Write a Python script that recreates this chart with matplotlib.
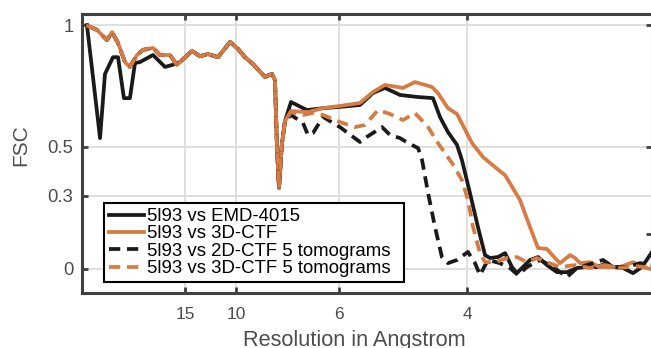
import matplotlib
matplotlib.use("Agg")
import matplotlib.pyplot as plt
import numpy as np

plt.rcParams["font.family"] = ["Liberation Sans", "DejaVu Sans"]

# spatial frequency (1/Angstrom) and FSC values
# low-resolution part shared by the 3D-CTF and the two "5 tomograms" curves
top_head_f = [0.0036, 0.0094, 0.0159, 0.0192, 0.0231, 0.0276, 0.0308, 0.0354,
              0.0393, 0.0458, 0.0503, 0.0568, 0.0614, 0.0646]
top_head_fsc = [0.996, 0.980, 0.938, 0.971, 0.926, 0.848, 0.828, 0.877,
                0.898, 0.906, 0.877, 0.877, 0.836, 0.856]

# low-resolution part of the EMD-4015 curve
emd_head_f = [0.0029, 0.0114, 0.0146, 0.0198, 0.0231, 0.0269, 0.0308, 0.0341,
              0.0373, 0.0458, 0.0536, 0.0581, 0.0633]
emd_head_fsc = [1.000, 0.536, 0.799, 0.868, 0.868, 0.700, 0.700, 0.844,
                0.848, 0.877, 0.828, 0.836, 0.848]

# middle part where all four curves overlap (incl. the dip near 8 A)
mid_f = [0.0711, 0.0763, 0.0815, 0.0880, 0.0958, 0.1010, 0.1055, 0.1107,
         0.1185, 0.1231, 0.1250, 0.1263, 0.1276, 0.1295, 0.1315]
mid_fsc = [0.894, 0.872, 0.881, 0.868, 0.930, 0.902, 0.868, 0.840,
           0.787, 0.799, 0.774, 0.499, 0.331, 0.512, 0.606]

# high-resolution tails
emd_tail_f = [0.1354, 0.1458, 0.1562, 0.1672, 0.1802, 0.1886, 0.1964, 0.2062,
              0.2172, 0.2276, 0.2321, 0.2373, 0.2432, 0.2464, 0.2516, 0.2568,
              0.2614, 0.2646, 0.2698, 0.2744, 0.2789, 0.2821, 0.2860, 0.2906,
              0.2958, 0.3016, 0.3081, 0.3146, 0.3211, 0.3276, 0.3341, 0.3406,
              0.3445, 0.3510, 0.3575, 0.3633, 0.3672, 0.3710]
emd_tail_fsc = [0.684, 0.651, 0.659, 0.664, 0.672, 0.721, 0.742, 0.713,
                0.705, 0.700, 0.623, 0.561, 0.508, 0.446, 0.311, 0.171,
                0.056, 0.044, 0.048, 0.064, 0.007, -0.018, 0.007, 0.036,
                0.048, 0.015, -0.014, -0.014, 0.003, 0.007, 0.007, 0.023,
                0.007, 0.003, -0.018, 0.007, 0.044, 0.080]

ctf3d_tail_f = [0.1354, 0.1464, 0.1562, 0.1672, 0.1802, 0.1886, 0.1964, 0.2081,
                0.2159, 0.2269, 0.2308, 0.2373, 0.2432, 0.2529, 0.2601, 0.2679,
                0.2744, 0.2841, 0.2906, 0.2958, 0.3016, 0.3068, 0.3101, 0.3166,
                0.3198, 0.3231, 0.3295, 0.3360, 0.3406, 0.3490, 0.3575, 0.3640,
                0.3710]
ctf3d_tail_fsc = [0.647, 0.643, 0.659, 0.668, 0.680, 0.725, 0.754, 0.742,
                  0.766, 0.746, 0.721, 0.659, 0.635, 0.516, 0.458, 0.417,
                  0.384, 0.282, 0.171, 0.085, 0.081, 0.044, 0.023, 0.056,
                  0.044, 0.023, 0.027, 0.007, 0.007, 0.007, 0.027, 0.007,
                  -0.005]

ctf2d_5t_tail_f = [0.1354, 0.1432, 0.1464, 0.1497, 0.1562, 0.1672, 0.1802, 0.1847,
                   0.1945, 0.1997, 0.2062, 0.2114, 0.2179, 0.2205, 0.2244, 0.2289,
                   0.2334, 0.2373, 0.2432, 0.2503, 0.2549, 0.2581, 0.2633, 0.2711,
                   0.2776, 0.2828, 0.2886, 0.2971, 0.3055, 0.3146, 0.3211, 0.3276,
                   0.3380, 0.3445, 0.3536, 0.3620, 0.3710]
ctf2d_5t_tail_fsc = [0.631, 0.598, 0.549, 0.557, 0.623, 0.581, 0.520, 0.541,
                     0.581, 0.549, 0.536, 0.516, 0.495, 0.446, 0.311, 0.171,
                     0.048, 0.023, 0.036, 0.069, 0.023, -0.026, 0.036, 0.023,
                     0.003, -0.026, 0.007, 0.036, 0.007, -0.034, 0.003, 0.015,
                     0.036, 0.007, 0.007, 0.023, 0.015]

ctf3d_5t_tail_f = [0.1354, 0.1432, 0.1497, 0.1562, 0.1672, 0.1769, 0.1834, 0.1919,
                   0.1997, 0.2081, 0.2159, 0.2244, 0.2308, 0.2399, 0.2464, 0.2503,
                   0.2536, 0.2581, 0.2614, 0.2679, 0.2757, 0.2821, 0.2886, 0.2951,
                   0.3016, 0.3101, 0.3198, 0.3295, 0.3393, 0.3490, 0.3588, 0.3710]
ctf3d_5t_tail_fsc = [0.643, 0.631, 0.639, 0.631, 0.602, 0.581, 0.590, 0.651,
                     0.635, 0.610, 0.639, 0.581, 0.516, 0.434, 0.364, 0.282,
                     0.171, 0.064, 0.027, 0.027, 0.044, 0.048, 0.027, 0.044,
                     0.027, 0.007, 0.015, 0.003, 0.015, 0.003, 0.011, 0.003]

labels = ["5l93 vs EMD-4015", "5l93 vs 3D-CTF",
          "5l93 vs 2D-CTF 5 tomograms", "5l93 vs 3D-CTF 5 tomograms"]

res_ticks = [15, 10, 6, 4]
fsc_ticks = [0, 0.3, 0.5, 1]
fsc_ticks_right = [0.143, 0.5, 1]

BLACK = "#1a1a1a"
ORANGE = "#d77b43"
AXCOL = "#404040"

series = [
    (emd_head_f + mid_f + emd_tail_f, emd_head_fsc + mid_fsc + emd_tail_fsc, BLACK, "-"),
    (top_head_f + mid_f + ctf3d_tail_f, top_head_fsc + mid_fsc + ctf3d_tail_fsc, ORANGE, "-"),
    (top_head_f + mid_f + ctf2d_5t_tail_f, top_head_fsc + mid_fsc + ctf2d_5t_tail_fsc, BLACK, "--"),
    (top_head_f + mid_f + ctf3d_5t_tail_f, top_head_fsc + mid_fsc + ctf3d_5t_tail_fsc, ORANGE, "--"),
]

fig = plt.figure(figsize=(6.51, 3.48), dpi=100)
ax = fig.add_axes([0.1267, 0.157, 0.8748, 0.8026])

for (f, fsc, col, ls), lab in zip(series, labels):
    line, = ax.plot(np.array(f), np.array(fsc), color=col, lw=2.7, label=lab)
    if ls == "--":
        line.set_dashes((3.0, 1.8))

ax.set_xlim(0, 0.3698)
ax.set_ylim(-0.101, 1.045)

ax.set_xticks([1.0 / r for r in res_ticks])
ax.set_xticklabels([str(r) for r in res_ticks])
ax.set_yticks(fsc_ticks)
ax.set_yticklabels([str(t) for t in fsc_ticks])

ax.grid(True, color="#dcdcdc", lw=1.3)
ax.set_axisbelow(True)

for sp in ax.spines.values():
    sp.set_color(AXCOL)
    sp.set_linewidth(2.2)

ax.tick_params(axis="both", direction="in", length=4, width=2.0, color=AXCOL,
               labelcolor="#4d4d4d")
ax.tick_params(axis="x", top=True, pad=10, labelsize=12.5)
ax.tick_params(axis="y", right=False, pad=6.5, labelsize=13.3)

# right-hand ticks (no labels) as in the original figure
ax2 = ax.twinx()
ax2.set_ylim(ax.get_ylim())
ax2.set_yticks(fsc_ticks_right)
ax2.tick_params(axis="y", direction="in", length=4, width=2.0, color=AXCOL,
                labelright=False)
for sp in ax2.spines.values():
    sp.set_visible(False)

ax.set_xlabel("Resolution in Angstrom", fontsize=15.7, color="#4d4d4d")
ax.xaxis.set_label_coords(0.477, -0.132)
ax.set_ylabel("FSC", fontsize=15, color="#4d4d4d")
ax.yaxis.set_label_coords(-0.091, 0.53)

leg = ax.legend(loc="lower left", bbox_to_anchor=(0.037, 0.039, 0.527, 0.28),
                mode="expand", borderaxespad=0,
                fontsize=13.4, handlelength=1.9, handletextpad=0.15,
                labelspacing=0.02, borderpad=0.28, fancybox=False, framealpha=1)
leg.get_frame().set_edgecolor("black")
leg.get_frame().set_linewidth(1.5)
leg.set_zorder(5)

fig.savefig("out.png", dpi=100)
